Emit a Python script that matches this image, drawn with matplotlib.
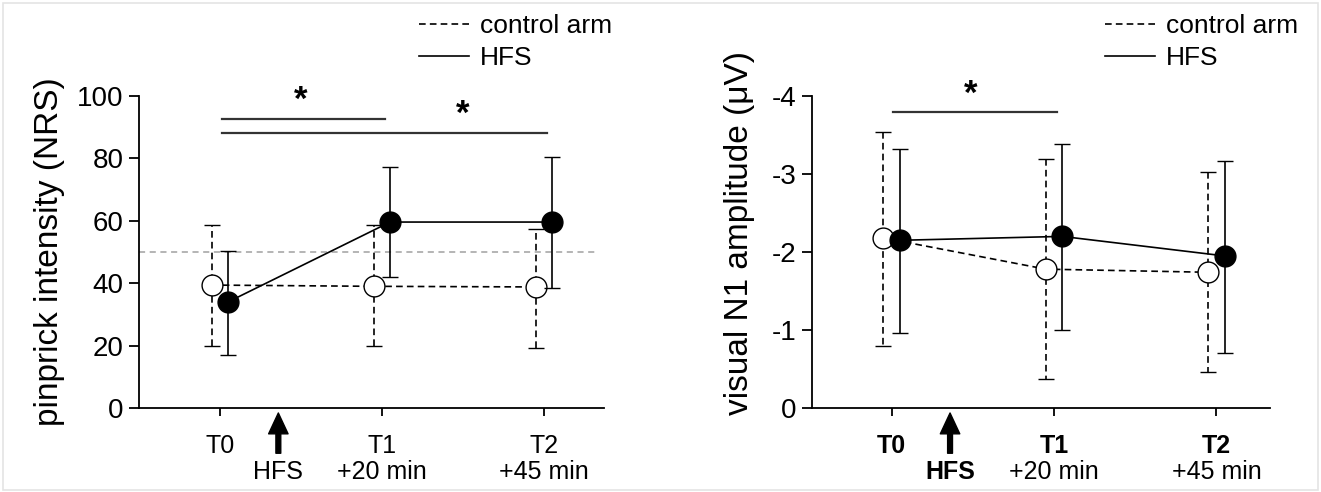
import numpy as np
import matplotlib
matplotlib.use('Agg')
import matplotlib.pyplot as plt
from matplotlib.lines import Line2D
from matplotlib.patches import Rectangle
import matplotlib.transforms as mtransforms

plt.rcParams['font.family'] = ['Liberation Sans', 'DejaVu Sans']

# time points and labels
times = np.array([0, 1, 2])
tick_top = ['T0', 'T1', 'T2']
tick_bottom = ['', '+20 min', '+45 min']
stim_label = 'HFS'
legend_labels = ['control arm', 'HFS']

# pinprick intensity (NRS): mean, lower / upper error bar ends
pin_ctrl = [39.4, 39.0, 38.8]
pin_ctrl_lo = [20.0, 20.0, 19.3]
pin_ctrl_hi = [58.5, 58.6, 57.5]
pin_hfs = [34.0, 59.6, 59.6]
pin_hfs_lo = [17.1, 42.0, 38.5]
pin_hfs_hi = [50.3, 77.2, 80.5]
pin_ref = 50
pin_sig = [(0, 1, 92.5), (0, 2, 88.3)]   # (from, to, height)

# visual N1 amplitude (uV)
n1_ctrl = [-2.18, -1.78, -1.74]
n1_ctrl_lo = [-0.79, -0.37, -0.46]
n1_ctrl_hi = [-3.54, -3.19, -3.03]
n1_hfs = [-2.15, -2.20, -1.95]
n1_hfs_lo = [-0.965, -1.00, -0.70]
n1_hfs_hi = [-3.32, -3.39, -3.17]
n1_sig = [(0, 1, -3.79)]

off = 0.05
W, H = 1321, 492


def err(mean, a, b):
    mean, a, b = np.array(mean), np.array(a), np.array(b)
    lo = np.minimum(a, b)
    hi = np.maximum(a, b)
    return [mean - lo, hi - mean]


def panel(ax, ctrl, c_lo, c_hi, hfs, h_lo, h_hi, sig, bold):
    e1 = ax.errorbar(times - off, ctrl, yerr=err(ctrl, c_lo, c_hi), fmt='o', ls='--',
                     color='black', lw=1.2, elinewidth=1.2, capsize=5.5, capthick=1.2,
                     ms=15, mfc='white', mec='black', mew=1.0, zorder=4)
    e1[2][0].set_linestyle((0, (4, 2.5)))
    e1[0].set_linestyle((0, (4, 2.5)))
    ax.errorbar(times + off, hfs, yerr=err(hfs, h_lo, h_hi), fmt='o', ls='-',
                color='black', lw=1.2, elinewidth=1.2, capsize=5.5, capthick=1.2,
                ms=15, mfc='black', mec='black', mew=1.0, zorder=5)

    for sp in ['top', 'right']:
        ax.spines[sp].set_visible(False)
    for sp in ['left', 'bottom']:
        ax.spines[sp].set_linewidth(1.3)
    ax.tick_params(axis='y', length=7, width=1.3, labelsize=20, pad=4)
    ax.tick_params(axis='x', length=6, width=1.3, labelsize=18, pad=13)
    ax.set_xticks(times)
    ax.set_xticklabels(tick_top, fontweight='bold' if bold else 'normal')

    tr = mtransforms.blended_transform_factory(ax.transData, ax.transAxes)
    for t, s in zip(times, tick_bottom):
        if s:
            ax.text(t, -0.205, s, transform=tr, ha='center', va='center', fontsize=18)
    ax.annotate('', xy=(0.36, -0.016), xytext=(0.36, -0.145), xycoords=tr, textcoords=tr,
                arrowprops=dict(facecolor='black', edgecolor='black', width=3.5,
                                headwidth=14, headlength=15, shrink=0))
    ax.text(0.36, -0.205, stim_label, transform=tr, ha='center', va='center', fontsize=18,
            fontweight='bold' if bold else 'normal')

    for a, b, h in sig:
        ax.plot([a + 0.01, b + 0.02], [h, h], color='#333333', lw=1.6, clip_on=False)


fig = plt.figure(figsize=(W / 100, H / 100), dpi=100)
ax1 = fig.add_axes([139 / W, 1 - 408 / H, (604 - 139) / W, (408 - 96) / H])
ax2 = fig.add_axes([812 / W, 1 - 408 / H, (1270 - 812) / W, (408 - 96) / H])

# left panel
ax1.axhline(pin_ref, color='#a0a0a0', lw=1.1, ls=(0, (4, 3)), zorder=1, xmax=0.98)
panel(ax1, pin_ctrl, pin_ctrl_lo, pin_ctrl_hi, pin_hfs, pin_hfs_lo, pin_hfs_hi, pin_sig, False)
ax1.set_xlim(-0.5, 2.37)
ax1.set_ylim(0, 100)
ax1.set_yticks([0, 20, 40, 60, 80, 100])
ax1.set_ylabel('pinprick intensity (NRS)', fontsize=24, labelpad=9)
ax1.text(0.5, 98.5, '*', ha='center', va='center', fontsize=25, fontweight='bold')
ax1.text(1.5, 94.0, '*', ha='center', va='center', fontsize=25, fontweight='bold')

# right panel
panel(ax2, n1_ctrl, n1_ctrl_lo, n1_ctrl_hi, n1_hfs, n1_hfs_lo, n1_hfs_hi, n1_sig, True)
ax2.set_xlim(-0.49, 2.33)
ax2.set_ylim(0, -4)
ax2.set_yticks([0, -1, -2, -3, -4])
ax2.set_yticklabels(['0', '-1', '-2', '-3', '-4'])
ax2.set_ylabel('visual N1 amplitude (μV)', fontsize=24, labelpad=12)
ax2.yaxis.set_label_coords(-0.125, 0.56)
ax2.text(0.49, -4.02, '*', ha='center', va='center', fontsize=25, fontweight='bold')

handles = [Line2D([], [], color='black', lw=1.2, ls=(0, (4, 2.5))),
           Line2D([], [], color='black', lw=1.2)]
for ax, x0 in [(ax1, 419 / W), (ax2, 1105 / W)]:
    ax.legend(handles, legend_labels, loc='upper left', bbox_to_anchor=(x0, 0.972),
              bbox_transform=fig.transFigure, frameon=False, fontsize=19,
              handlelength=1.9, handletextpad=0.4, labelspacing=0.32,
              borderpad=0, borderaxespad=0)

fig.patches.append(Rectangle((0.002, 0.004), 0.996, 0.99, transform=fig.transFigure,
                             fill=False, edgecolor='#e4e4e4', lw=1.2))

fig.savefig('out.png', dpi=100)
